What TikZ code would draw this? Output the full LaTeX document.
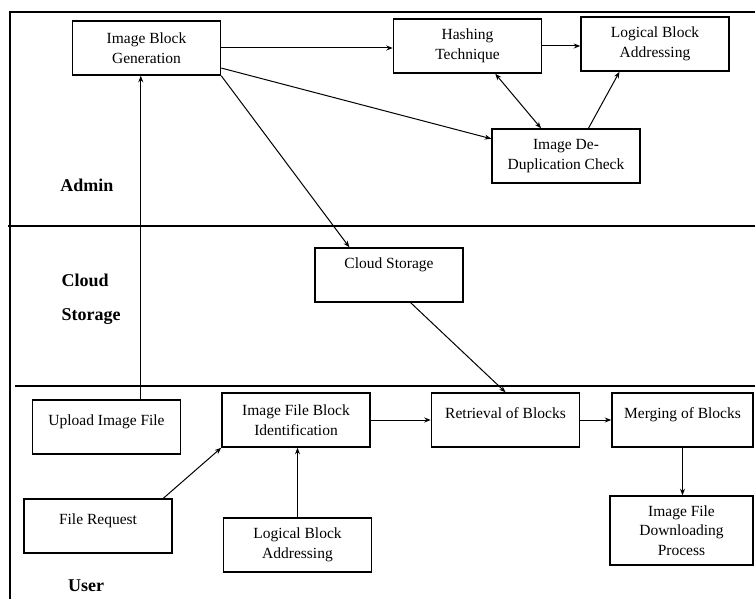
\documentclass[tikz,border=0pt]{standalone}
\usepackage{fontspec}
\setmainfont{Liberation Serif}
\usepackage{tikz}
\usetikzlibrary{arrows.meta,positioning,calc}
\tikzstyle{arrow} = [
    line width=1pt,
    -{Stealth[length=6.5pt,width=5pt]},
    draw=black
]
\tikzstyle{block} = [
    rectangle,
    line width=1.5pt,
    minimum width=148pt,
    minimum height=54pt,
    align=center,
    draw=black,
    fill=white,
    font=\fontsize{15.5}{19.5}\selectfont
]
\tikzstyle{lane} = [
    font=\fontsize{18}{22}\selectfont\bfseries
]
\tikzstyle{raised} = [text depth=14pt]
\begin{document}
\begin{tikzpicture}[x=1pt,y=-1pt]
    \useasboundingbox (0,0) rectangle (755,599);
    % swim lanes
    \draw[line width=1.2pt] (10,599) -- (10,12) -- (755,12);
    \draw[line width=1.2pt] (8,226) -- (755,226);
    \draw[line width=1.2pt] (15,386) -- (755,386);
    \node[lane] (admin) at (87,185) {Admin};
    \node[lane,align=left] (cloudlbl) at (91,299) {Cloud\\[12pt]Storage};
    \node[lane] (user) at (86,586) {User};
    % admin
    \node[block] (ibg) at (146.5,48) {Image Block\\Generation};
    \node[block] (hash) at (467.5,46) {Hashing\\Technique};
    \node[block] (lbatop) at (655,44) {Logical Block\\Addressing};
    \node[block] (dedup) at (566,156) {Image De-\\Duplication Check};
    % cloud
    \node[block,text depth=24pt] (cloud) at (389,275) {Cloud Storage};
    % user
    \node[block,raised] (upload) at (106.5,427) {Upload Image File};
    \node[block] (ifbi) at (296,420) {Image File Block\\Identification};
    \node[block,raised] (filereq) at (98,526) {File Request};
    \node[block] (lbabot) at (297.5,545) {Logical Block\\Addressing};
    \node[block,raised] (retr) at (505.5,420) {Retrieval of Blocks};
    \node[block,raised,minimum width=141pt] (merge) at (682.5,420) {Merging of Blocks};
    \node[block,minimum width=143pt,minimum height=69pt] (ifdp) at (681.5,530.5) {Image File\\Downloading\\Process};
    % connectors
    \draw[arrow] (ibg.east) -- (ibg.east -| hash.west);
    \draw[arrow] (hash.east) -- (hash.east -| lbatop.west);
    \draw[arrow] (ibg.345) -- (dedup.167);
    \draw[arrow] (ibg.south east) -- (cloud.145);
    \draw[arrow,{Stealth[length=6.5pt,width=5pt]}-{Stealth[length=6.5pt,width=5pt]}] (hash.-45) -- (dedup.132);
    \draw[arrow] (dedup.51) -- (lbatop.218);
    \draw[arrow] (upload.39) -- (upload.39 |- ibg.south);
    \draw[arrow] (cloud.-52) -- (retr.north);
    \draw[arrow] (ifbi.east) -- (retr.west);
    \draw[arrow] (retr.east) -- (merge.west);
    \draw[arrow] (merge.south) -- (merge.south |- ifdp.north);
    \draw[arrow] (filereq.23) -- (ifbi.south west);
    \draw[arrow] (lbabot.north) -- (lbabot.north |- ifbi.south);
\end{tikzpicture}
\end{document}
